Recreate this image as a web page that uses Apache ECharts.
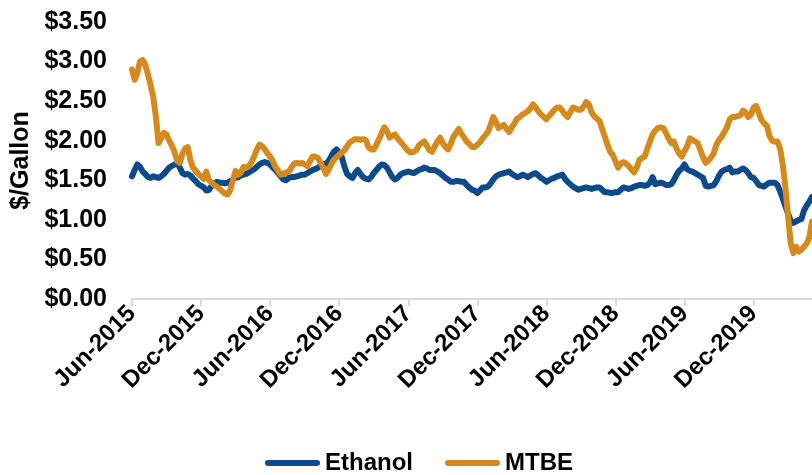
<!DOCTYPE html>
<html>
<head>
<meta charset="utf-8">
<script src="https://cdn.jsdelivr.net/npm/echarts@6/dist/echarts.min.js"></script>
<style>
html,body{margin:0;padding:0;background:#fff;}
#chart{width:812px;height:475px;}
</style>
</head>
<body>
<div id="chart"></div>
<script>
// Weekly series, first week in early June 2015
const startDate = "2015-06-05";
const tickLabels = ["Jun-2015","Dec-2015","Jun-2016","Dec-2016","Jun-2017","Dec-2017","Jun-2018","Dec-2018","Jun-2019","Dec-2019"];
const weeksPerTick = 26;

const ethanol = [
1.55,1.63,1.70,1.67,1.61,1.58,1.54,1.53,1.55,1.54,
1.53,1.55,1.58,1.62,1.66,1.68,1.70,1.72,1.66,1.59,
1.57,1.58,1.56,1.52,1.49,1.45,1.43,1.41,1.37,1.38,
1.43,1.46,1.48,1.47,1.47,1.46,1.47,1.49,1.51,1.53,
1.54,1.56,1.57,1.58,1.60,1.62,1.64,1.67,1.70,1.72,
1.73,1.72,1.70,1.66,1.63,1.59,1.55,1.51,1.50,1.53,
1.54,1.54,1.55,1.56,1.57,1.57,1.59,1.61,1.63,1.64,
1.66,1.68,1.70,1.71,1.74,1.80,1.86,1.89,1.85,1.79,
1.67,1.58,1.55,1.53,1.59,1.63,1.58,1.54,1.52,1.51,
1.54,1.59,1.63,1.67,1.70,1.69,1.66,1.60,1.54,1.51,
1.53,1.57,1.59,1.60,1.61,1.60,1.59,1.61,1.63,1.64,
1.66,1.65,1.63,1.63,1.63,1.61,1.59,1.56,1.53,1.51,
1.48,1.48,1.49,1.49,1.48,1.48,1.44,1.41,1.38,1.37,
1.34,1.37,1.41,1.41,1.42,1.46,1.51,1.55,1.57,1.58,
1.59,1.60,1.61,1.58,1.56,1.54,1.55,1.57,1.56,1.54,
1.56,1.58,1.59,1.56,1.53,1.51,1.48,1.50,1.52,1.53,
1.55,1.56,1.57,1.52,1.48,1.45,1.42,1.40,1.38,1.39,
1.40,1.41,1.40,1.39,1.40,1.41,1.41,1.38,1.35,1.35,
1.34,1.34,1.35,1.35,1.38,1.41,1.40,1.39,1.40,1.42,
1.43,1.44,1.44,1.43,1.44,1.47,1.54,1.45,1.46,1.47,
1.46,1.44,1.44,1.45,1.50,1.57,1.62,1.65,1.70,1.64,
1.62,1.61,1.59,1.57,1.55,1.53,1.43,1.42,1.43,1.44,
1.49,1.56,1.61,1.63,1.64,1.66,1.60,1.61,1.61,1.63,
1.65,1.63,1.59,1.54,1.53,1.49,1.44,1.43,1.42,1.45,
1.47,1.47,1.47,1.44,1.36,1.27,1.17,1.08,0.98,0.96,
0.98,1.00,1.01,1.12,1.18,1.23,1.29
];

const mtbe = [
2.90,2.77,2.85,3.00,3.02,2.96,2.84,2.70,2.55,2.30,
1.97,2.03,2.10,2.08,2.00,1.94,1.86,1.74,1.72,1.84,
1.90,1.92,1.75,1.66,1.62,1.58,1.55,1.52,1.61,1.50,
1.47,1.44,1.42,1.39,1.36,1.33,1.32,1.38,1.50,1.62,
1.57,1.60,1.67,1.66,1.68,1.73,1.80,1.89,1.95,1.93,
1.89,1.84,1.80,1.74,1.67,1.62,1.57,1.58,1.60,1.61,
1.66,1.71,1.72,1.71,1.72,1.70,1.68,1.74,1.80,1.80,
1.78,1.72,1.66,1.58,1.63,1.70,1.76,1.79,1.82,1.85,
1.88,1.93,1.98,2.00,2.02,2.02,2.01,2.02,2.01,1.92,
1.89,1.89,1.95,2.02,2.10,2.17,2.12,2.04,2.06,2.08,
2.03,1.99,1.95,1.91,1.87,1.85,1.86,1.88,1.94,1.97,
1.99,1.94,1.88,1.86,1.93,1.99,2.04,1.97,1.92,1.89,
1.96,2.05,2.10,2.15,2.09,2.04,1.99,1.96,1.92,1.92,
1.95,1.98,2.03,2.07,2.11,2.20,2.30,2.24,2.16,2.18,
2.20,2.15,2.11,2.17,2.22,2.28,2.30,2.33,2.35,2.37,
2.41,2.46,2.42,2.37,2.33,2.30,2.27,2.31,2.35,2.39,
2.42,2.42,2.38,2.33,2.30,2.36,2.42,2.41,2.39,2.39,
2.43,2.49,2.46,2.36,2.31,2.28,2.25,2.15,2.05,1.95,
1.86,1.82,1.74,1.66,1.71,1.73,1.71,1.68,1.64,1.60,
1.66,1.76,1.78,1.80,1.90,1.99,2.08,2.13,2.16,2.17,
2.16,2.10,2.03,1.97,1.99,1.90,1.84,1.80,1.87,1.93,
2.03,2.01,1.99,1.97,1.88,1.79,1.72,1.75,1.79,1.84,
1.95,2.01,2.05,2.11,2.17,2.27,2.30,2.30,2.31,2.32,
2.38,2.36,2.30,2.33,2.42,2.44,2.35,2.26,2.22,2.19,
2.06,2.00,1.99,1.99,1.90,1.70,1.40,1.04,0.70,0.58,
0.66,0.60,0.62,0.66,0.70,0.78,0.98
];

// weekly category labels
const categories = [];
{
  const d0 = new Date(startDate + "T00:00:00Z");
  for (let i = 0; i < ethanol.length; i++) {
    const d = new Date(d0.getTime() + i * 7 * 86400000);
    categories.push(d.toISOString().slice(0, 10));
  }
}

const FONT = '"Liberation Sans", Arial, sans-serif';
const chart = echarts.init(document.getElementById('chart'), null, {renderer: 'canvas'});
const showTick = (idx) => idx % weeksPerTick === 0 && idx / weeksPerTick < tickLabels.length;
const capsule = 'path://M3,0 L52,0 A3,3 0 0 1 52,6 L3,6 A3,3 0 0 1 3,0 Z';

chart.setOption({
  animation: false,
  backgroundColor: '#ffffff',
  grid: {left: 132, right: 0, top: 22, bottom: 176, containLabel: false, outerBoundsMode: 'none'},
  legend: {
    left: 260,
    top: 446,
    itemWidth: 55,
    itemHeight: 6,
    itemGap: 32,
    textStyle: {fontFamily: FONT, fontWeight: 'bold', fontSize: 24, color: '#000'},
    data: [
      {name: 'Ethanol', icon: capsule, itemStyle: {color: '#0C4A89'}},
      {name: 'MTBE', icon: capsule, itemStyle: {color: '#D58A1E'}}
    ]
  },
  xAxis: {
    type: 'category',
    data: categories,
    boundaryGap: false,
    axisLine: {show: true, lineStyle: {color: '#d9d9d9', width: 2}},
    axisTick: {show: true, interval: showTick, length: 7, lineStyle: {color: '#d9d9d9', width: 2}},
    axisLabel: {
      interval: showTick,
      rotate: 45,
      margin: 11,
      fontFamily: FONT, fontWeight: 'bold', fontSize: 24, color: '#000',
      formatter: (v, idx) => tickLabels[idx / weeksPerTick] || ''
    },
    splitLine: {show: false}
  },
  yAxis: {
    type: 'value',
    min: 0, max: 3.5, interval: 0.5,
    name: '$/Gallon',
    nameLocation: 'middle',
    nameRotate: 90,
    nameGap: 98,
    nameTextStyle: {fontFamily: FONT, fontWeight: 'bold', fontSize: 25, color: '#000'},
    axisLine: {show: false},
    axisTick: {show: false},
    splitLine: {show: false},
    axisLabel: {
      margin: 25,
      fontFamily: FONT, fontWeight: 'bold', fontSize: 25, color: '#000',
      formatter: (v) => '$' + v.toFixed(2)
    }
  },
  series: [
    {name: 'Ethanol', type: 'line', data: ethanol, symbol: 'none', showSymbol: false,
     color: '#0C4A89', lineStyle: {width: 6, color: '#0C4A89', cap: 'round', join: 'round'}},
    {name: 'MTBE', type: 'line', data: mtbe, symbol: 'none', showSymbol: false,
     color: '#D58A1E', lineStyle: {width: 6, color: '#D58A1E', cap: 'round', join: 'round'}}
  ]
});
</script>
</body>
</html>
